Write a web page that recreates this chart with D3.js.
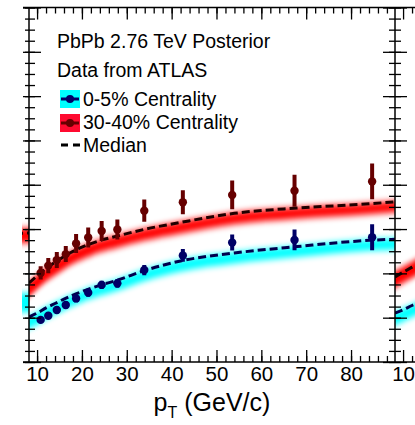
<!DOCTYPE html>
<html>
<head>
<meta charset="utf-8">
<script src="https://cdn.jsdelivr.net/npm/d3@7"></script>
<style>
  body { margin: 0; background: #fff; }
  svg { display: block; font-family: "Liberation Sans", Arial, sans-serif; }
</style>
</head>
<body>
<div id="chart"></div>
<script>
// posterior curves (pT grid)
const curvePt = [8.2, 10, 12, 14, 16, 18, 20, 22, 24, 28, 34, 42, 54, 68, 84, 89.8];
const redMedian = [0.357, 0.388, 0.422, 0.450, 0.476, 0.499, 0.518, 0.534, 0.548, 0.569, 0.599, 0.630, 0.671, 0.695, 0.714, 0.723];
const redHi     = [0.363, 0.394, 0.427, 0.455, 0.480, 0.503, 0.522, 0.538, 0.552, 0.573, 0.603, 0.634, 0.675, 0.699, 0.718, 0.727];
const redLo     = [0.295, 0.328, 0.363, 0.392, 0.419, 0.443, 0.463, 0.480, 0.495, 0.517, 0.548, 0.580, 0.622, 0.647, 0.667, 0.676];
const blueMedian = [0.203, 0.221, 0.244, 0.264, 0.284, 0.302, 0.318, 0.333, 0.346, 0.370, 0.413, 0.456, 0.492, 0.521, 0.549, 0.554];
const blueHi     = [0.207, 0.225, 0.248, 0.268, 0.288, 0.306, 0.322, 0.337, 0.350, 0.374, 0.417, 0.460, 0.496, 0.525, 0.553, 0.558];
const blueLo     = [0.150, 0.168, 0.192, 0.213, 0.234, 0.253, 0.270, 0.285, 0.299, 0.323, 0.366, 0.409, 0.445, 0.474, 0.502, 0.507];

// ATLAS data
const dataPt  = [10.8, 12.5, 14.4, 16.4, 18.7, 21.4, 24.4, 27.9, 33.9, 42.5, 53.5, 67.4, 84.7];
const redRaa  = [0.402, 0.435, 0.460, 0.487, 0.535, 0.562, 0.591, 0.598, 0.683, 0.721, 0.754, 0.773, 0.815];
const redErr  = [0.030, 0.034, 0.036, 0.036, 0.043, 0.045, 0.045, 0.045, 0.050, 0.054, 0.065, 0.072, 0.081];
const blueRaa = [0.190, 0.209, 0.235, 0.257, 0.287, 0.313, 0.348, 0.355, 0.415, 0.481, 0.539, 0.551, 0.563];
const blueErr = [0.014, 0.014, 0.015, 0.016, 0.017, 0.018, 0.019, 0.020, 0.023, 0.029, 0.036, 0.047, 0.059];

// bits of the neighbouring panels that show at the edges
const leftPt = [84, 89.8];
const leftRedMed = [0.578, 0.582];
const leftRedLo = [0.535, 0.538];
const leftRedHi = [0.600, 0.605];
const leftBlueLo = [0.222, 0.226];
const leftBlueHi = [0.306, 0.311];
const rightPt = [8.2, 10, 12, 14];
const rightRedMed = [0.384, 0.405, 0.428, 0.450];
const rightRedLo  = [0.335, 0.356, 0.379, 0.401];
const rightRedHi  = [0.410, 0.430, 0.453, 0.475];
const rightBlueMed = [0.221, 0.236, 0.255, 0.272];
const rightBlueLo  = [0.168, 0.183, 0.202, 0.219];
const rightBlueHi  = [0.226, 0.241, 0.260, 0.277];

const xMajor = [10, 20, 30, 40, 50, 60, 70, 80];
const xMinor = d3.range(10, 90, 2);
const yMajor = d3.range(0, 1.61, 0.2);
const yMinor = d3.range(0, 1.601, 0.05);

const W = 415, H = 425;
const L = 29, R = 395, T = 7.5, B = 362;

const svg = d3.select('#chart').append('svg').attr('width', W).attr('height', H);

const x = d3.scaleLinear().domain([8.2, 89.8]).range([L, R]);
const xLeft = d3.scaleLinear().domain([8.2, 89.8]).range([L - (R - L), L]);
const xRight = d3.scaleLinear().domain([8.2, 89.8]).range([R, R + (R - L)]);
const y = d3.scaleLinear().domain([0, 1.6]).range([B, T]);

const defs = svg.append('defs');
defs.append('filter').attr('id', 'blur')
  .attr('x', '-5%').attr('y', '-60%').attr('width', '110%').attr('height', '220%')
  .append('feGaussianBlur').attr('stdDeviation', '0.5 3.4');
defs.append('clipPath').attr('id', 'clipMain').append('rect')
  .attr('x', L).attr('y', T).attr('width', R - L).attr('height', B - T);
defs.append('clipPath').attr('id', 'clipLeft').append('rect')
  .attr('x', 22).attr('y', T).attr('width', L - 22).attr('height', B - T);
defs.append('clipPath').attr('id', 'clipRight').append('rect')
  .attr('x', R).attr('y', T).attr('width', W - R).attr('height', B - T);

function drawBand(g, xs, pts, lo, hi, color) {
  const area = d3.area()
    .x((d, i) => xs(pts[i]))
    .y0((d, i) => y(lo[i]))
    .y1((d, i) => y(hi[i]))
    .curve(d3.curveMonotoneX);
  g.append('path').datum(pts).attr('d', area).attr('fill', color).attr('filter', 'url(#blur)');
}

function drawMedian(g, xs, pts, med, color) {
  const line = d3.line()
    .x((d, i) => xs(pts[i]))
    .y((d, i) => y(med[i]))
    .curve(d3.curveMonotoneX);
  g.append('path').datum(pts).attr('d', line)
    .attr('fill', 'none').attr('stroke', color)
    .attr('stroke-width', 3).attr('stroke-dasharray', '8,4');
}

function drawPoints(g, vals, errs, color) {
  g.selectAll(null).data(dataPt).join('line')
    .attr('x1', d => x(d)).attr('x2', d => x(d))
    .attr('y1', (d, i) => y(vals[i] - errs[i]))
    .attr('y2', (d, i) => y(vals[i] + errs[i]))
    .attr('stroke', color).attr('stroke-width', 4);
  g.selectAll(null).data(dataPt).join('circle')
    .attr('cx', d => x(d)).attr('cy', (d, i) => y(vals[i]))
    .attr('r', 4.2).attr('fill', color);
}

// neighbouring panels
const gLeft = svg.append('g').attr('clip-path', 'url(#clipLeft)');
drawBand(gLeft, xLeft, leftPt, leftBlueLo, leftBlueHi, '#00ffff');
drawBand(gLeft, xLeft, leftPt, leftRedLo, leftRedHi, '#ff0000');
drawMedian(gLeft, xLeft, leftPt, leftRedMed, '#200000');

const gRight = svg.append('g').attr('clip-path', 'url(#clipRight)');
drawBand(gRight, xRight, rightPt, rightBlueLo, rightBlueHi, '#00ffff');
drawBand(gRight, xRight, rightPt, rightRedLo, rightRedHi, '#ff0000');
drawMedian(gRight, xRight, rightPt, rightBlueMed, '#00004d');
drawMedian(gRight, xRight, rightPt, rightRedMed, '#200000');

// main panel
const gMain = svg.append('g').attr('clip-path', 'url(#clipMain)');
drawBand(gMain, x, curvePt, blueLo, blueHi, '#00ffff');
drawBand(gMain, x, curvePt, redLo, redHi, '#ff0000');
drawMedian(gMain, x, curvePt, blueMedian, '#00004d');
drawMedian(gMain, x, curvePt, redMedian, '#200000');
drawPoints(gMain, blueRaa, blueErr, '#000066');
drawPoints(gMain, redRaa, redErr, '#660000');

// frame lines
svg.append('line').attr('x1', 23).attr('x2', W).attr('y1', T).attr('y2', T).attr('stroke', '#000').attr('stroke-width', 1.5);
svg.append('line').attr('x1', 23).attr('x2', W).attr('y1', B).attr('y2', B).attr('stroke', '#000').attr('stroke-width', 1.5);
svg.append('line').attr('x1', L).attr('x2', L).attr('y1', T).attr('y2', B).attr('stroke', '#000').attr('stroke-width', 1.5);
svg.append('line').attr('x1', R).attr('x2', R).attr('y1', T).attr('y2', B).attr('stroke', '#000').attr('stroke-width', 1.5);

function styleAxis(g) {
  g.select('.domain').remove();
  g.selectAll('.tick line').attr('stroke', '#000').attr('stroke-width', 1.3);
}

// x axes, bottom (ticks pointing up) and top (ticks pointing down)
svg.append('g').attr('transform', `translate(0,${B})`)
  .call(d3.axisBottom(x).tickValues(xMinor).tickSize(-6).tickFormat(''))
  .call(styleAxis);
svg.append('g').attr('transform', `translate(0,${B})`)
  .call(d3.axisBottom(x).tickValues(xMajor).tickSize(-12).tickPadding(4).tickFormat(d3.format('d')))
  .call(styleAxis)
  .call(g => g.selectAll('text').attr('fill', '#000').style('font-size', '20.5px'));
svg.append('g').attr('transform', `translate(0,${T})`)
  .call(d3.axisTop(x).tickValues(xMinor).tickSize(-6).tickFormat(''))
  .call(styleAxis);
svg.append('g').attr('transform', `translate(0,${T})`)
  .call(d3.axisTop(x).tickValues(xMajor).tickSize(-12).tickFormat(''))
  .call(styleAxis);

// next panel's first ticks
svg.append('g').attr('transform', `translate(0,${B})`)
  .call(d3.axisBottom(xRight).tickValues([12, 14]).tickSize(-6).tickFormat(''))
  .call(styleAxis);
svg.append('g').attr('transform', `translate(0,${B})`)
  .call(d3.axisBottom(xRight).tickValues([10]).tickSize(-12).tickPadding(4).tickFormat(d3.format('d')))
  .call(styleAxis)
  .call(g => g.selectAll('text').attr('fill', '#000').style('font-size', '20.5px'));
svg.append('g').attr('transform', `translate(0,${T})`)
  .call(d3.axisTop(xRight).tickValues([12, 14]).tickSize(-6).tickFormat(''))
  .call(styleAxis);
svg.append('g').attr('transform', `translate(0,${T})`)
  .call(d3.axisTop(xRight).tickValues([10]).tickSize(-12).tickFormat(''))
  .call(styleAxis);

// y axes, ticks crossing the shared panel borders
svg.append('g').attr('transform', `translate(${L},0)`)
  .call(d3.axisLeft(y).tickValues(yMinor).tickSize(-6).tickFormat(''))
  .call(styleAxis)
  .call(g => g.selectAll('.tick line').attr('x1', -4));
svg.append('g').attr('transform', `translate(${L},0)`)
  .call(d3.axisLeft(y).tickValues(yMajor).tickSize(-12).tickFormat(''))
  .call(styleAxis)
  .call(g => g.selectAll('.tick line').attr('x1', -6));
svg.append('g').attr('transform', `translate(${R},0)`)
  .call(d3.axisRight(y).tickValues(yMinor).tickSize(6).tickFormat(''))
  .call(styleAxis)
  .call(g => g.selectAll('.tick line').attr('x1', -6));
svg.append('g').attr('transform', `translate(${R},0)`)
  .call(d3.axisRight(y).tickValues(yMajor).tickSize(12).tickFormat(''))
  .call(styleAxis)
  .call(g => g.selectAll('.tick line').attr('x1', -12));

// axis title
const title = svg.append('text').attr('x', (L + R) / 2).attr('y', 411)
  .attr('text-anchor', 'middle').style('font-size', '25px').attr('fill', '#000');
title.append('tspan').text('p');
title.append('tspan').attr('dy', 7).style('font-size', '16px').text('T');
title.append('tspan').attr('dy', -7).text(' (GeV/c)');

// legend
const leg = svg.append('g').style('font-size', '19.5px').attr('fill', '#000');
leg.append('text').attr('x', 57).attr('y', 48).text('PbPb 2.76 TeV Posterior');
leg.append('text').attr('x', 57).attr('y', 76.5).text('Data from ATLAS');

leg.append('rect').attr('x', 60).attr('y', 90).attr('width', 20).attr('height', 18).attr('fill', '#00ffff');
leg.append('line').attr('x1', 61).attr('x2', 79).attr('y1', 99).attr('y2', 99).attr('stroke', '#000066').attr('stroke-width', 3);
leg.append('circle').attr('cx', 70).attr('cy', 99).attr('r', 4).attr('fill', '#000066');
leg.append('text').attr('x', 83).attr('y', 105.5).text('0-5% Centrality');

leg.append('rect').attr('x', 60).attr('y', 114).attr('width', 20).attr('height', 18).attr('fill', '#ff0a30');
leg.append('line').attr('x1', 61).attr('x2', 79).attr('y1', 123).attr('y2', 123).attr('stroke', '#660000').attr('stroke-width', 3);
leg.append('circle').attr('cx', 70).attr('cy', 123).attr('r', 4).attr('fill', '#660000');
leg.append('text').attr('x', 83).attr('y', 129).text('30-40% Centrality');

leg.append('line').attr('x1', 61).attr('x2', 80).attr('y1', 145).attr('y2', 145)
  .attr('stroke', '#000').attr('stroke-width', 3).attr('stroke-dasharray', '7,5');
leg.append('text').attr('x', 83).attr('y', 151.5).text('Median');
</script>
</body>
</html>
